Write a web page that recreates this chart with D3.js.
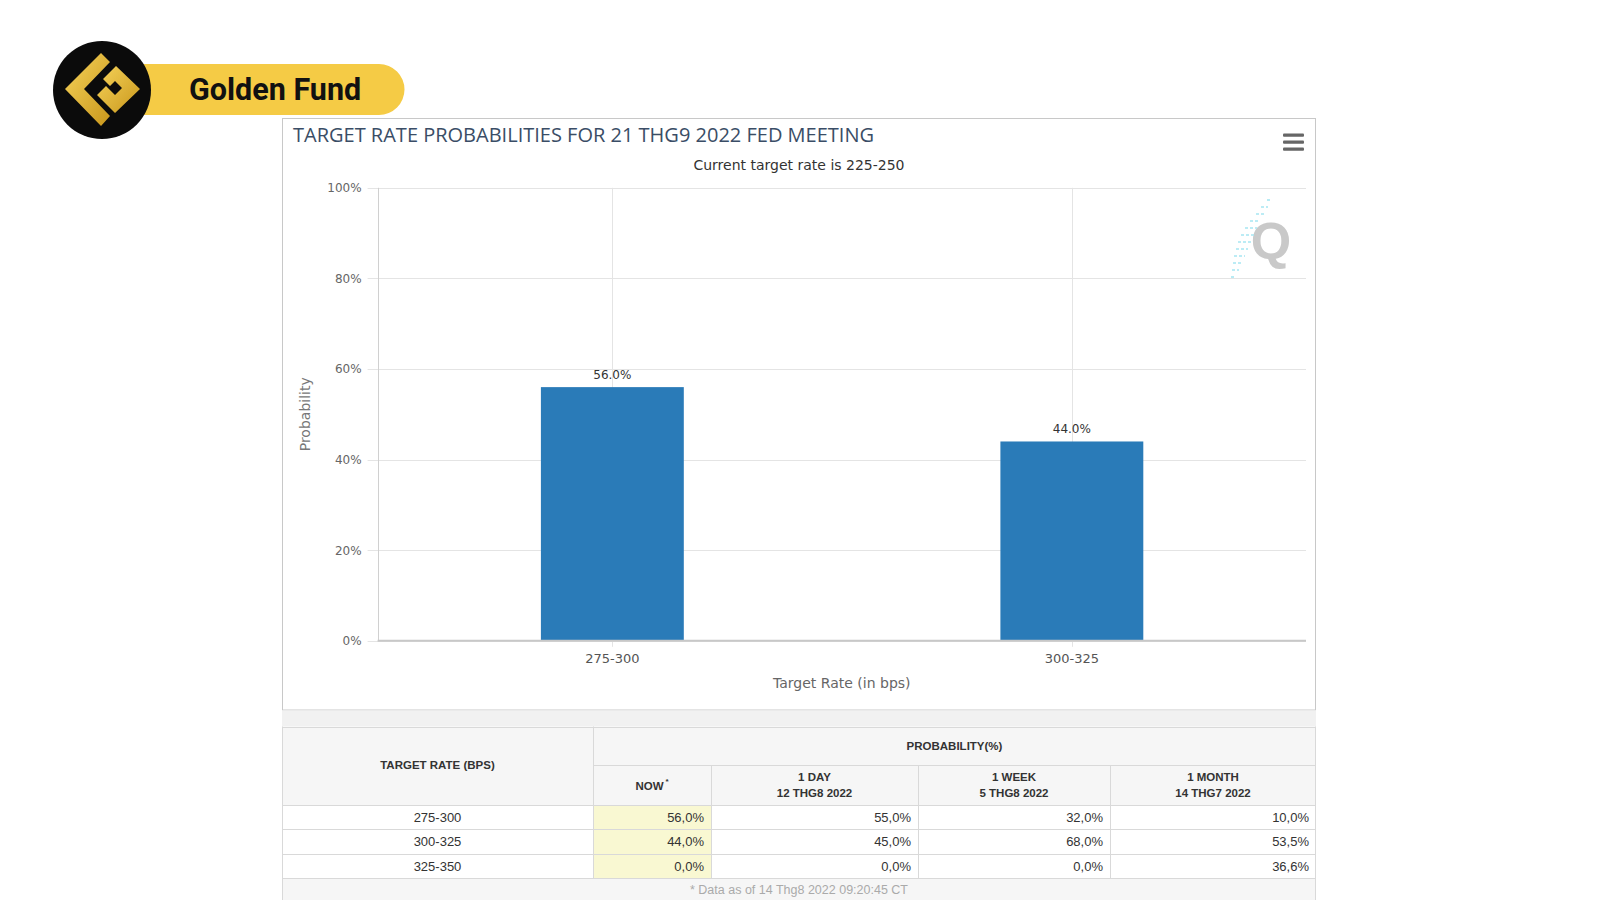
<!DOCTYPE html>
<html>
<head>
<meta charset="utf-8">
<script src="https://cdn.jsdelivr.net/npm/d3@7"></script>
<style>
  html, body { margin: 0; padding: 0; background: #ffffff; }
  svg { display: block; }
</style>
</head>
<body>
<svg id="root" width="1600" height="900"></svg>
<script>
// ---------------- DATA ----------------
const categories = ["275-300", "300-325"];
const probabilities = [56.0, 44.0];
const yTicks = [0, 20, 40, 60, 80, 100];
const chartTitle = "TARGET RATE PROBABILITIES FOR 21 THG9 2022 FED MEETING";
const chartSubtitle = "Current target rate is 225-250";
const yAxisTitle = "Probability";
const xAxisTitle = "Target Rate (in bps)";

const tableRates = ["275-300", "300-325", "325-350"];
const nowValues = ["56,0%", "44,0%", "0,0%"];
const dayValues = ["55,0%", "45,0%", "0,0%"];
const weekValues = ["32,0%", "68,0%", "0,0%"];
const monthValues = ["10,0%", "53,5%", "36,6%"];
const colHeaders = [["NOW"], ["1 DAY", "12 THG8 2022"], ["1 WEEK", "5 THG8 2022"], ["1 MONTH", "14 THG7 2022"]];
const tableFooter = "* Data as of 14 Thg8 2022 09:20:45 CT";
const brandName = "Golden Fund";

// ---------------- SETUP ----------------
const svg = d3.select("#root");
const titleFont = "'Open Sans', 'DejaVu Sans', sans-serif";
const chartFont = "'DejaVu Sans', 'Open Sans', sans-serif";
const tableFont = "'Liberation Sans', Arial, sans-serif";

// ---------------- LOGO ----------------
const defs = svg.append("defs");
const gold = defs.append("linearGradient").attr("id", "gold")
  .attr("x1", "0%").attr("y1", "0%").attr("x2", "100%").attr("y2", "100%");
gold.append("stop").attr("offset", "0%").attr("stop-color", "#f6d35a");
gold.append("stop").attr("offset", "100%").attr("stop-color", "#c9971c");

const logo = svg.append("g");
logo.append("path")
  .attr("d", "M100,64 H379 A25.5,25.5 0 0 1 379,115 H100 Z")
  .attr("fill", "#f5cb45");
logo.append("circle").attr("cx", 102).attr("cy", 90).attr("r", 49).attr("fill", "#0b0b0b");
// chevron
logo.append("path")
  .attr("d", "M101,53 L110,62 L84,89 L110,116 L101,126 L65,89 Z")
  .attr("fill", "url(#gold)");
// inner diamond "G"
logo.append("path")
  .attr("d", "M116,66 L140,89 L115,113 L97,95 L106,86 L115,95 L122,88 L115,81 L110,86 L103,79 Z")
  .attr("fill", "url(#gold)");
logo.append("text")
  .attr("x", 189).attr("y", 100)
  .attr("font-family", "Roboto, sans-serif").attr("font-weight", 700)
  .attr("font-size", 30.5).attr("fill", "#111")
  .text(brandName);

// ---------------- CHART BOX ----------------
svg.append("rect")
  .attr("x", 282.5).attr("y", 118.5).attr("width", 1033).attr("height", 591.5)
  .attr("fill", "#fff").attr("stroke", "#c8c8c8").attr("stroke-width", 1);

svg.append("text")
  .attr("x", 293).attr("y", 142)
  .attr("font-family", titleFont).attr("font-size", 20).attr("fill", "#3a4d66")
  .text(chartTitle);

svg.append("text")
  .attr("x", 799).attr("y", 170).attr("text-anchor", "middle")
  .attr("font-family", chartFont).attr("font-size", 14).attr("fill", "#333")
  .text(chartSubtitle);

// hamburger menu
const menu = svg.append("g");
[135, 142, 149].forEach(yy => {
  menu.append("rect").attr("x", 1283).attr("y", yy - 1.5).attr("width", 21).attr("height", 3.2)
    .attr("rx", 1).attr("fill", "#666");
});

// ---------------- PLOT ----------------
const plot = { left: 377.6, right: 1306, top: 187.8, bottom: 640.8 };
const x = d3.scaleBand().domain(categories).range([plot.left + 5, plot.right - 4.4]).padding(0);
const y = d3.scaleLinear().domain([0, 100]).range([plot.bottom, plot.top]);
const barWidth = x.bandwidth() * 0.311;

const g = svg.append("g");

// watermark Q
const wm = g.append("g");
wm.append("text").attr("x", 1271).attr("y", 259).attr("text-anchor", "middle")
  .attr("font-family", "'Liberation Sans', Arial, sans-serif").attr("font-weight", 700)
  .attr("font-size", 52).attr("fill", "#c9c9c9").text("Q");
[[1272, 200, 5], [1268, 207, 7], [1264, 214, 8], [1260, 221, 10], [1257, 228, 12], [1254, 235, 13],
 [1251, 242, 13], [1248, 249, 12], [1245, 256, 11], [1242, 263, 9], [1239, 270, 7], [1236, 277, 5]].forEach(d => {
  wm.append("line").attr("x1", d[0] - d[2]).attr("x2", d[0]).attr("y1", d[1]).attr("y2", d[1])
    .attr("stroke", "#a6e6f2").attr("stroke-width", 1.6).attr("stroke-dasharray", "3,2");
});

// horizontal gridlines
g.append("g").selectAll("line").data(yTicks).join("line")
  .attr("x1", plot.left - 10).attr("x2", plot.right)
  .attr("y1", d => Math.round(y(d)) + 0.5).attr("y2", d => Math.round(y(d)) + 0.5)
  .attr("stroke", "#e4e4e4");

// vertical gridlines at category centres
g.append("g").selectAll("line").data(categories).join("line")
  .attr("x1", d => Math.round(x(d) + x.bandwidth() / 2) + 0.5)
  .attr("x2", d => Math.round(x(d) + x.bandwidth() / 2) + 0.5)
  .attr("y1", plot.top).attr("y2", plot.bottom + 6)
  .attr("stroke", "#e4e4e4");

// y axis labels
const yAxis = d3.axisLeft(y).tickValues(yTicks).tickFormat(d => d + "%").tickSize(0).tickPadding(16);
const yAx = g.append("g").attr("transform", `translate(${plot.left},0)`).call(yAxis);
yAx.select(".domain").remove();
yAx.selectAll("text").attr("font-family", chartFont).attr("font-size", 12).attr("fill", "#666");

// y axis line
g.append("line").attr("x1", Math.round(plot.left) + 0.5).attr("x2", Math.round(plot.left) + 0.5)
  .attr("y1", plot.top).attr("y2", plot.bottom).attr("stroke", "#d0d0d0");

// bars
g.append("g").selectAll("rect").data(categories).join("rect")
  .attr("x", (d) => x(d) + x.bandwidth() / 2 - barWidth / 2)
  .attr("width", barWidth)
  .attr("y", (d, i) => y(probabilities[i]))
  .attr("height", (d, i) => y(0) - y(probabilities[i]))
  .attr("fill", "#2a7bb8");

// data labels
g.append("g").selectAll("text").data(categories).join("text")
  .attr("x", d => x(d) + x.bandwidth() / 2)
  .attr("y", (d, i) => y(probabilities[i]) - 8)
  .attr("text-anchor", "middle")
  .attr("font-family", chartFont).attr("font-size", 12).attr("fill", "#333")
  .text((d, i) => probabilities[i].toFixed(1) + "%");

// x axis
const xAxis = d3.axisBottom(x).tickSize(0).tickPadding(13);
const xAx = g.append("g").attr("transform", `translate(0,${plot.bottom})`).call(xAxis);
xAx.select(".domain").attr("stroke", "#c8c8c8").attr("stroke-width", 2)
  .attr("d", `M${plot.left},0H${plot.right}`);
xAx.selectAll("text").attr("font-family", chartFont).attr("font-size", 13).attr("fill", "#555");

// axis titles
g.append("text")
  .attr("transform", `translate(310,${(plot.top + plot.bottom) / 2}) rotate(-90)`)
  .attr("text-anchor", "middle")
  .attr("font-family", chartFont).attr("font-size", 14).attr("fill", "#777")
  .text(yAxisTitle);
g.append("text")
  .attr("x", (plot.left + plot.right) / 2).attr("y", 688).attr("text-anchor", "middle")
  .attr("font-family", chartFont).attr("font-size", 14).attr("fill", "#666")
  .text(xAxisTitle);

// ---------------- TABLE ----------------
const tbl = svg.append("g");
// gray strip between chart and table
tbl.append("rect").attr("x", 282).attr("y", 710.5).attr("width", 1034).attr("height", 16)
  .attr("fill", "#f1f1f1");

const colX = [282, 593, 711, 918, 1110, 1316];
const rowY = { h1: 726.5, h2: 765, d0: 805, rowH: 24.4 };
const dataEnd = rowY.d0 + rowY.rowH * tableRates.length;
const borderC = "#d9d9d9";

// header backgrounds
tbl.append("rect").attr("x", colX[0]).attr("y", rowY.h1).attr("width", colX[5] - colX[0])
  .attr("height", rowY.d0 - rowY.h1).attr("fill", "#f6f6f6");
// data background
tbl.append("rect").attr("x", colX[0]).attr("y", rowY.d0).attr("width", colX[5] - colX[0])
  .attr("height", dataEnd - rowY.d0).attr("fill", "#fff");
// NOW column highlight
tbl.append("rect").attr("x", colX[1]).attr("y", rowY.d0).attr("width", colX[2] - colX[1])
  .attr("height", dataEnd - rowY.d0).attr("fill", "#f9f8d2");
// footer
tbl.append("rect").attr("x", colX[0]).attr("y", dataEnd).attr("width", colX[5] - colX[0])
  .attr("height", 900 - dataEnd).attr("fill", "#f6f6f6");

// borders
const hl = (x1, x2, yy) => tbl.append("line").attr("x1", x1).attr("x2", x2)
  .attr("y1", Math.round(yy) + 0.5).attr("y2", Math.round(yy) + 0.5).attr("stroke", borderC);
const vl = (xx, y1, y2) => tbl.append("line").attr("x1", Math.round(xx) + 0.5).attr("x2", Math.round(xx) + 0.5)
  .attr("y1", y1).attr("y2", y2).attr("stroke", borderC);
hl(colX[0], colX[5], rowY.h1);
hl(colX[1], colX[5], rowY.h2);
for (let i = 0; i <= tableRates.length; i++) hl(colX[0], colX[5], rowY.d0 + i * rowY.rowH);
vl(colX[0], rowY.h1, 900);
vl(colX[5] - 1, rowY.h1, 900);
vl(colX[1], rowY.h1, dataEnd);
for (let c = 2; c <= 4; c++) vl(colX[c], rowY.h2, dataEnd);

// header texts
const hText = (xx, yy, t, anchor = "middle") => tbl.append("text").attr("x", xx).attr("y", yy)
  .attr("text-anchor", anchor).attr("font-family", tableFont).attr("font-weight", 700)
  .attr("font-size", 11.5).attr("fill", "#333").text(t);
hText((colX[0] + colX[1]) / 2, 769, "TARGET RATE (BPS)");
hText((colX[1] + colX[5]) / 2, 749.5, "PROBABILITY(%)");
colHeaders.forEach((lines, i) => {
  const cx = (colX[i + 1] + colX[i + 2]) / 2;
  if (lines.length === 1) {
    const t = hText(cx, 789.5, lines[0]);
    t.append("tspan").attr("dy", -6).attr("dx", 2).attr("font-size", 8).text("*");
  } else {
    hText(cx, 781, lines[0]);
    hText(cx, 797, lines[1]);
  }
});

// data texts
const cols = [nowValues, dayValues, weekValues, monthValues];
tableRates.forEach((r, i) => {
  const yy = rowY.d0 + i * rowY.rowH + 17;
  tbl.append("text").attr("x", (colX[0] + colX[1]) / 2).attr("y", yy).attr("text-anchor", "middle")
    .attr("font-family", tableFont).attr("font-size", 13).attr("fill", "#333").text(r);
  cols.forEach((vals, c) => {
    tbl.append("text").attr("x", colX[c + 2] - 7).attr("y", yy).attr("text-anchor", "end")
      .attr("font-family", tableFont).attr("font-size", 13).attr("fill", "#333").text(vals[i]);
  });
});
tbl.append("text").attr("x", (colX[0] + colX[5]) / 2).attr("y", 894).attr("text-anchor", "middle")
  .attr("font-family", tableFont).attr("font-size", 12.5).attr("fill", "#aaa").text(tableFooter);
</script>
</body>
</html>
